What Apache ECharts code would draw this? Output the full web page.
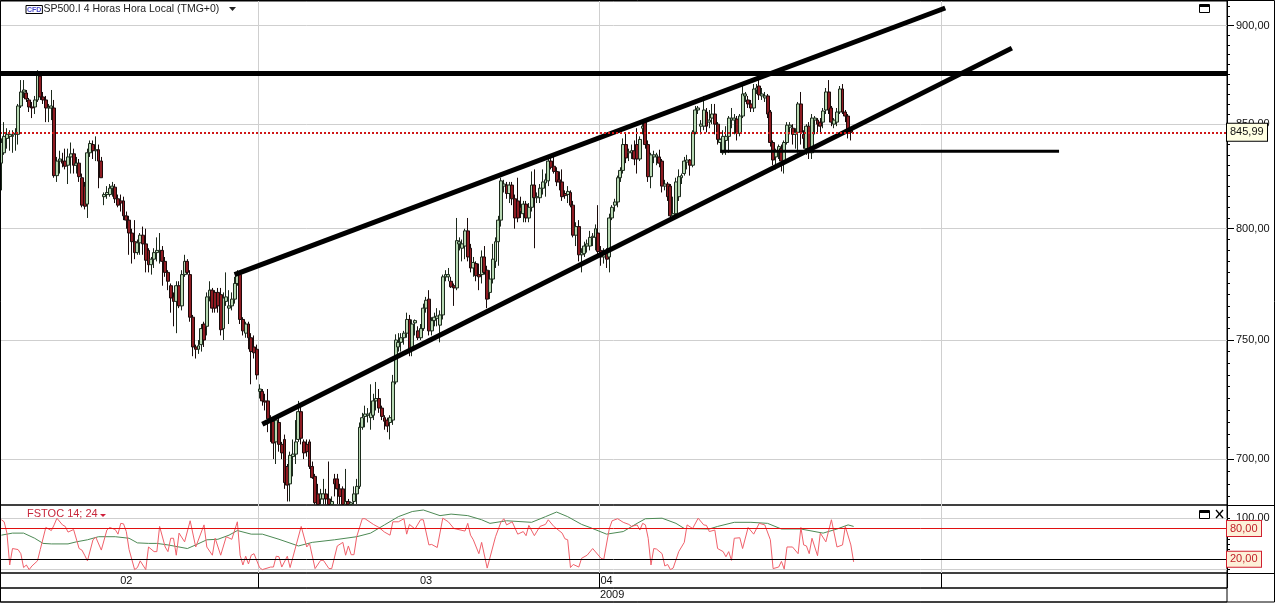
<!DOCTYPE html>
<html><head><meta charset="utf-8">
<style>html,body{margin:0;padding:0;background:#fff}#c{width:1275px;height:603px}</style>
<script src="https://cdn.jsdelivr.net/npm/echarts@6/dist/echarts.min.js"></script>
</head><body><div id="c"></div>
<script>
// open, close, low, high
const ohlc = [
[831,841,818,843],[836,844,835,851],[843,845,838,848],[844,845,837,847],[844,844.5,836,847],[845,845.5,837,848],[845,859,840,860],[859,866,858,872],[866,867,863,872],[865.5,862.5,861,867],
[862,858.5,856,863],[858.5,858,853,861],[858.5,862,855,864],[862,874.5,861,877],[874,863.5,862,876],[863.5,862,860,866],[862,858,851,864],[858,858.5,851,860],[858,859,852,867],[858,825,824,862],
[825,832,822,834],[832,833,826,837],[832,831,829,836],[832,829.5,828,838],[830,834,821,838],[834,835.5,826,841],[835.5,830,826,838],[830,831,826,834],[831,824.5,822,833],[824,811,810,826],
[820,810.5,809,822],[811.5,836,805,838],[836,840.5,834,842],[840,837,833,842],[837,837.5,832,844],[837.5,832,819,840],[832,824,824,834],[815,816,811,817],[816,817,814,820],[816,819,815,821],
[819,820,815,822],[819.5,814,812,821],[814,811,810,816],[813,812,808,816],[813,806,804,815],[806,804,800,808],[804,798,788,806],[798,794,784,800],[794,789,786,804],[789,793.5,788,795],
[793.5,797,788,798],[797,793,788,801],[793,785.5,780,800],[790,783.5,780,791],[783.5,786,779,787],[786,789,782,791],[789,790,785,796],[789.5,790,784,798],[790,785,774,792],[785,780,778,787],
[780,776,772,781],[774,768.5,762,775],[769,767,756,771],[767,774,753,776],[774,765,764,776],[765,779,763,781],[779,785,778,788],[785,780,779,786],[779,760,758,781],[760,747,743,761],
[747,746,742,748],[746,747.5,744,750],[748,755,745,757],[757,750,747,758],[756,769,752,771],[769,772,767,776],[772,764,762,773],[771,764,762,772],[771,765,762,773],[770,754.5,752,773],
[755,768.5,750,771],[767,769,765,780],[764,765,757,772],[765,768,763,771],[768,775,766,778],[775,779,774,781],[779,759,757,780],[759,754,752,760],[753,757,751,758],[757,751,746,758],
[751,745,731,753],[747,744.5,742,752],[746,735,733,748],[728,729,725,731],[728,724,722,729],[724,723.5,720,727],[724,716.5,711,729],[716.5,715,707,718],[715.5,706.5,700,717],[707,716,698,717],
[715,706,703,717],[706,702.5,700,707],[708,690.5,688,710],[697,689.5,683,698],[690,701.5,683,703],[701,702,693,708],[702,707,698,716],[708,719.5,707,724],[719.5,708.5,706,722],[707,702.5,700,708],
[706,703,701,708],[707,697,696,708],[697,692.5,692,699],[693,682.5,681.8,694],[686,681.8,681.8,690],[684,686,681.8,688],[684,686,681.8,692],[686,684,681.8,688],[684,681.8,681.8,699],[681.8,683,681.8,685],
[692,690,685,694],[692,688,682,694],[688,685,681.8,690],[688,681.8,681.8,689],[681.8,683,681.8,696],[683,681.8,681.8,684],[681.8,682.5,681.8,683],[683,686,681.8,689],[686,689,682,692],[689,713,688,715],
[713,717,712,719],[717.5,718.5,713,722],[718,718.5,715,721],[717,719,712,731],[718,724,716,727],[724,725,720,732],[725,721,719,729],[721,717.5,716,722],[717,715.5,712,718],[716,713.5,711,717],
[715,717,708,718],[716,732,714,735],[732,750,731,752.5],[747,749,745,753],[749,751,745,753],[751,753,748,754],[753,759,751,762],[759,745.5,743,761],[745.5,757,743,759],[757.5,758.5,752,759],
[754,751,750,756],[751,755,750,757],[755,764,754,766],[764,767.5,762,769],[768,754,752,772],[754,758.5,752,760],[758.5,760,756,762],[759.5,760.5,756,764],[756.5,761,749,763],[761,778,759,779],
[778,779,776,781],[778,779,776,782],[776,773.5,773,778],[774,773,765,775],[773,794.5,772,805],[793,794,790,796],[791,793,785,795],[792,799,786,800],[799,787,785,805],[791,782,780,793],
[782,784.5,778,787],[784,778.5,776,785],[779,778,772,784],[779,787,775,790],[787,780,779,792],[781,768,764,783],[771,777,768,781],[777,786,775,793],[785,794,782,796],[794,804,783,806],
[804,822.5,801,824],[820,821,817,823],[820.5,816.5,814,822],[816.5,820.5,812,822],[820.5,814,811,822],[814,805,800,816],[813,805,803,824],[810,808,805,815],[807,811.5,803,813],[811.5,805,803,813],
[805,810,803,812],[810,820.5,808,827],[820.5,814.5,791,828],[814.5,815,812,817],[814.5,819,812,821],[819,822,816,828],[821.5,823,815,826],[822.5,832,820,834],[832,829,828,834],[829.5,827,826,834],
[827,822,820,829],[823,822,818,827],[822,815,813,828],[816.5,815.5,814,818],[816,817.5,812,820],[817,811,810,818],[811,797,796,813],[797,801,792,803],[801,788,785,804],[788,789,780,791],
[788.5,792,787,794],[792,793,789,795],[792,796,790,799],[796,796.5,792,798],[796,800,790,802],[798,789.5,788,811],[790,787,783,792],[787,789,784,791],[789,786,782,791],[787,805,780,807],
[805,810,804,811],[811,812.5,808,814],[812.5,824,810,825],[824,827.5,822,829],[827.5,840,826,843],[840,833.5,831,846],[836,836.5,832,838],[836,837,833,840],[837,833,830,842],[840,833,826,848],
[833,842.5,832,844],[848,849,845,851],[851,840,838,852],[840,824.5,822,842],[824.5,835,819,836],[834,835,831,837],[834,835,830,836],[834,831,829,837.5],[832,820,817,833],[820,821,818,823],
[821,815,813,822],[820,806,805,821],[806,807,804,815],[807,822,805,824],[815,824.5,813,828],[824,825,821,826],[826,832,825,834],[831.5,832.5,828,835],[832.5,830,825,833],[830,846,829,847],
[846,857,845,859],[857,858,855,859],[849,850,845,852],[849,857,847,864],[856,849,846,858],[851,852,848,857],[853,855,850,860],[855,850,845,860],[850,842.5,840,851],[841,842.5,836,843],
[836,844,835,847],[842,844,835,849],[844,853,836,854],[852,853,848,858],[852,853,845,855],[852.5,845.5,842,854],[845.5,854,844,855],[854,865,853,869],[864,865,861,866],[862,860,858,864],
[860,858,856,862],[858,867.5,856,870],[867,868,865,870],[869,864.5,862,872],[864,865,862,868],[863,864,861,866],[864,855,853,865],[856,841,839,857],[841,832.5,830,842],[834,837,828,838],
[837,839,833,840],[838,832,827,840],[832,841,826,842],[841,849.5,840,851],[848.5,849.5,845,851],[848,845,840,850],[845,846,838,848],[846,860,836,861],[860,846,840,866],[845,843,838,847],
[838,849,835,850],[849,836,833,851],[836,853,833,855],[852,853,845,854],[852,850,846,853],[851,849,846,853],[851,856.5,848,858],[857,866,855,868],[866,857,855,872],[858,851,849,859],
[850,852,848,853],[851,856,849,858],[856,867.5,855,869],[867.5,856,855,870],[856,854,851,857],[854,847,843,855],[847,845.99,842,848]
];
const barSlots = 442;
const currentPrice = 845.99;
const resistancePrice = 875.6;
const upperChannel = [[84,779],[340,909.2]];
const lowerChannel = [[94,714.3],[364,888.3]];
const supportLine = [[259,836.8],[381,836.8]];
const fastStoch = [[0,97],[1,93],[2,71],[3,9],[4,41],[6,39],[7,31],[8,4],[9,9],[10,0],[11,7],[13,17],[14,39],[16,82],[18,76],[19,87],[20,100],[22,87],[23,84],[24,73],[26,78],[28,41],[29,38],[30,28],[31,17],[33,58],[34,63],[36,38],[38,77],[39,82],[41,78],[42,69],[43,90],[44,89],[45,74],[46,39],[48,0],[49,4],[50,17],[52,0],[53,44],[55,35],[56,35],[57,84],[59,44],[60,35],[61,61],[62,61],[63,28],[64,71],[66,54],[68,95],[70,44],[73,87],[74,44],[76,28],[77,61],[79,28],[81,64],[83,59],[85,93],[86,28],[87,9],[88,26],[89,11],[90,28],[91,31],[93,4],[94,0],[97,5],[98,5],[99,26],[100,25],[101,5],[103,26],[104,4],[106,44],[108,84],[110,44],[111,51],[113,2],[115,18],
[116,18],[118,2],[119,2],[121,46],[123,53],[124,28],[125,46],[126,29],[127,29],[128,64],[130,99],[131,99],[134,88],[136,82],[138,73],[140,67],[141,93],[143,93],[145,99],[146,69],[147,88],[149,79],[151,97],[152,97],[154,48],[155,49],[157,43],[159,100],[161,93],[163,80],[167,75],[168,90],[169,67],[170,58],[172,31],[173,53],[175,3],[178,64],[180,93],[181,99],[182,87],[184,93],[186,69],[188,74],[189,66],[190,86],[192,66],[194,84],[196,88],[197,97],[199,84],[202,71],[203,60],[204,58],[205,4],[206,10],[208,5],[209,22],[211,28],[213,41],[216,22],
[217,20],[219,80],[220,95],[222,99],[224,92],[226,88],[227,84],[229,87],[230,77],[231,90],[232,87],[233,61],[234,9],[235,41],[236,40],[238,31],[239,7],[240,10],[241,0],[242,3],[244,35],[246,53],[247,87],[249,80],[251,100],[253,87],[254,86],[255,74],[257,77],[258,41],[260,35],[261,25],[262,35],[263,18],[264,61],[266,62],[267,41],[269,82],[271,69],[273,90],[275,87],[277,58],[278,2],[280,5],[281,16],[282,1],[283,44],[285,44],[287,31],[288,82],[289,48],[290,46],[291,31],[292,61],[294,27],[295,71],[297,54],[299,97],[301,44],[303,48],[304,84],[306,48],[307,15]];
const slowStoch = [[0,67],[4,71],[8,71],[12,61],[15,51],[18,50],[24,50],[27,54],[31,58],[35,64],[41,64],[46,61],[49,52],[53,51],[56,51],[60,48],[67,41],[70,48],[74,58],[78,59],[82,67],[85,76],[90,69],[94,69],[100,59],[107,46],[112,53],[120,58],[128,64],[133,71],[138,87],[143,103],[148,113],[152,116],[158,105],[162,108],[168,105],[173,97],[176,90],[182,95],[191,92],[196,103],[200,112],[204,103],[209,88],[212,82],[218,69],[224,74],[229,90],[232,99],[238,100],[243,90],[246,80],[255,79],[258,84],[264,92],[270,92],[276,90],[281,79],[288,79],[296,71],[301,79],[305,87],[307,84]];
const priceLabels = [700,750,800,850,900];
const priceMinorTicks = [685,690,695,700,705,710,715,720,725,730,735,740,745,750,755,760,765,770,775,780,785,790,795,800,805,810,815,820,825,830,835,840,845,850,855,860,865,870,875,880,885,890,895,900,905,910];
const stochLabels = [100];
const stochTicks = [0,10,20,30,40,50,60,70,80,90,100];
const monthStarts = [93,216,339];
const monthLabels = {45:'02',153:'03',218:'04'};
const yearLabels = {220:'2009'};

const font = '"Liberation Sans", Arial, sans-serif';
const categories = Array.from({length:barSlots},(_, i)=>String(i));
const fmt = v => Number(v).toFixed(2).replace('.',',');
const isMonth = i => monthStarts.includes(i);
const PL=0, PW=1227;
const GRID='#cfcfcf';
const xBase = (gridIndex, extra) => Object.assign({
  type:'category', gridIndex, data:categories, boundaryGap:true,
  axisLine:{show:false}, axisTick:{show:false}, axisLabel:{show:false},
  splitLine:{show:true, interval:(i)=>isMonth(i), lineStyle:{color:GRID,width:1}}
}, extra||{});
const PMIN=681.6, PMAX=912.9, SMIN=-6.6, SMAX=125.7;

const option = {
  animation:false, backgroundColor:'#fff',
  textStyle:{fontFamily:font},
  title:[
    {left:26,top:4,padding:0,text:'{b|CFD}{t|SP500.I 4 Horas Hora Local (TMG+0)}',
     textStyle:{fontWeight:'normal',rich:{
       b:{fontSize:7,fontWeight:'bold',color:'#4a4ac8',borderColor:'#000',borderWidth:1,padding:[1,1,0,1],fontFamily:font},
       t:{fontSize:10.5,fontWeight:'normal',color:'#222',fontFamily:font,padding:[0,0,0,1]}}}},
    {left:27,top:508,padding:0,text:'FSTOC 14; 24',textStyle:{fontSize:11,fontWeight:'normal',color:'#c8283c',fontFamily:font}}
  ],
  grid:[
    {left:PL,top:1,width:PW,height:504,show:true,borderColor:'#000',borderWidth:1,backgroundColor:'#fff'},
    {left:PL,top:505,width:PW,height:68,show:true,borderColor:'#000',borderWidth:1},
    {left:PL,top:573,width:PW,height:15,show:true,borderColor:'#000',borderWidth:1},
    {left:PL,top:588,width:PW,height:14,show:true,borderColor:'#000',borderWidth:1}
  ],
  xAxis:[
    xBase(0), xBase(1),
    xBase(2,{position:'top',splitLine:{show:true,interval:(i)=>isMonth(i),lineStyle:{color:'#000',width:1}},
      axisLabel:{show:true,inside:true,margin:2,fontSize:11,color:'#111',interval:(i)=>monthLabels[i]!==undefined,formatter:(v,i)=>monthLabels[i]||''}}),
    xBase(3,{position:'top',splitLine:{show:false},
      axisLabel:{show:true,inside:true,margin:1,fontSize:11,color:'#111',interval:(i)=>yearLabels[i]!==undefined,formatter:(v,i)=>yearLabels[i]||''}})
  ],
  yAxis:[
    {type:'log',logBase:10,gridIndex:0,position:'right',min:PMIN,max:PMAX,scale:true,
     axisLine:{show:true,lineStyle:{color:'#000'}},
     axisTick:{show:true,length:3,customValues:priceMinorTicks,lineStyle:{color:'#000'}},
     axisLabel:{show:true,customValues:priceLabels,margin:9,fontSize:11,color:'#111',formatter:fmt,hideOverlap:false,showMinLabel:true,showMaxLabel:true},
     splitLine:{show:false},minorTick:{show:false}},
    {type:'log',logBase:10,gridIndex:0,position:'right',min:PMIN,max:PMAX,scale:true,
     axisLine:{show:false},axisLabel:{show:false},
     axisTick:{show:true,length:7,customValues:priceLabels,lineStyle:{color:'#000'}},
     splitLine:{show:false}},
    {type:'value',gridIndex:1,position:'right',min:SMIN,max:SMAX,
     axisLine:{show:true,lineStyle:{color:'#000'}},
     axisTick:{show:true,length:3,customValues:stochTicks,lineStyle:{color:'#000'}},
     axisLabel:{show:true,customValues:stochLabels,margin:9,fontSize:11,color:'#111',formatter:fmt},
     splitLine:{show:false}},
    {type:'value',gridIndex:2,show:false,min:0,max:1},
    {type:'value',gridIndex:3,show:false,min:0,max:1}
  ],
  series:[
    {type:'line',xAxisIndex:0,yAxisIndex:0,data:[],silent:true,z:1,
     markLine:{silent:true,symbol:'none',z:1,label:{show:false},lineStyle:{color:GRID,type:'solid',width:1},
       data:priceLabels.map(v=>({yAxis:v}))}},
    {type:'candlestick',xAxisIndex:0,yAxisIndex:0,data:ohlc,barWidth:3.4,clip:true,z:2,
     itemStyle:{color:'#b7d8b3',color0:'#8e1b22',borderColor:'#1c2a1c',borderColor0:'#1a0a0a',borderWidth:1},
     markLine:{silent:true,symbol:'none',z:5,
       lineStyle:{color:'#d01818',type:[2,2],width:2},
       label:{show:true,position:'end',distance:0,formatter:p=>fmt(p.value),fontSize:11,color:'#111',
         backgroundColor:'#ffffe3',borderColor:'#000',borderWidth:1,padding:[3,2,3,3],width:35},
       data:[{yAxis:currentPrice}]}},
    {type:'line',xAxisIndex:0,yAxisIndex:0,data:[],silent:true,z:4,
     markLine:{silent:true,symbol:'none',z:6,label:{show:false},lineStyle:{color:'#000',type:'solid',width:5},
       data:[{yAxis:resistancePrice}]}},
    {type:'line',xAxisIndex:0,yAxisIndex:0,data:upperChannel,showSymbol:false,symbol:'none',z:4,lineStyle:{color:'#000',width:5}},
    {type:'line',xAxisIndex:0,yAxisIndex:0,data:lowerChannel,showSymbol:false,symbol:'none',z:4,lineStyle:{color:'#000',width:5}},
    {type:'line',xAxisIndex:0,yAxisIndex:0,data:supportLine,showSymbol:false,symbol:'none',z:4,lineStyle:{color:'#000',width:3}},
    {type:'line',xAxisIndex:1,yAxisIndex:2,data:slowStoch,showSymbol:false,symbol:'none',z:3,lineStyle:{color:'#4d8a55',width:1},
     markLine:{silent:true,symbol:'none',z:1,label:{show:false},lineStyle:{color:GRID,type:'solid',width:1},
       data:[{yAxis:100},{yAxis:0}]}},
    {type:'line',xAxisIndex:1,yAxisIndex:2,data:fastStoch,showSymbol:false,symbol:'none',z:3,lineStyle:{color:'#f0606a',width:1},
     markLine:{silent:true,symbol:'none',z:5,
       label:{show:true,position:'end',distance:0,formatter:p=>fmt(p.value),fontSize:11,color:'#c0202a',
         backgroundColor:'#fdf0d8',borderColor:'#d02030',borderWidth:1,padding:[2,2,2,3],width:29},
       data:[
         {yAxis:80,lineStyle:{color:'#e01010',type:'solid',width:1}},
         {yAxis:20,lineStyle:{color:'#000',type:'solid',width:1}}
       ]}},
    {type:'line',xAxisIndex:2,yAxisIndex:3,data:[],silent:true},
    {type:'line',xAxisIndex:3,yAxisIndex:4,data:[],silent:true}
  ],
  graphic:[
    {type:'rect',silent:true,z:100,shape:{x:0.5,y:0.5,width:1274,height:601.5},style:{fill:'none',stroke:'#000',lineWidth:1}},
    {type:'line',silent:true,z:100,shape:{x1:1227,y1:505.5,x2:1275,y2:505.5},style:{stroke:'#000',lineWidth:1}},
    {type:'line',silent:true,z:100,shape:{x1:1227,y1:573.5,x2:1275,y2:573.5},style:{stroke:'#000',lineWidth:1}},
    {type:'polygon',silent:true,z:100,shape:{points:[[229,7],[236,7],[232.5,11]]},style:{fill:'#222'}},
    {type:'polygon',silent:true,z:100,shape:{points:[[100,514],[106,514],[103,517]]},style:{fill:'#d0203c'}},
    {type:'rect',silent:true,z:100,shape:{x:1199.5,y:4.5,width:10,height:8},style:{fill:'#fff',stroke:'#000',lineWidth:1}},
    {type:'line',silent:true,z:101,shape:{x1:1199,y1:6,x2:1210,y2:6},style:{stroke:'#000',lineWidth:2}},
    {type:'rect',silent:true,z:100,shape:{x:1199.5,y:510.5,width:10,height:8},style:{fill:'#fff',stroke:'#000',lineWidth:1}},
    {type:'line',silent:true,z:101,shape:{x1:1199,y1:512,x2:1210,y2:512},style:{stroke:'#000',lineWidth:2}},
    {type:'line',silent:true,z:100,shape:{x1:1216,y1:510,x2:1223,y2:518},style:{stroke:'#000',lineWidth:1.3}},
    {type:'line',silent:true,z:100,shape:{x1:1223,y1:510,x2:1216,y2:518},style:{stroke:'#000',lineWidth:1.3}}
  ]
};
const chart = echarts.init(document.getElementById('c'),null,{renderer:'canvas'});
chart.setOption(option);
</script></body></html>
